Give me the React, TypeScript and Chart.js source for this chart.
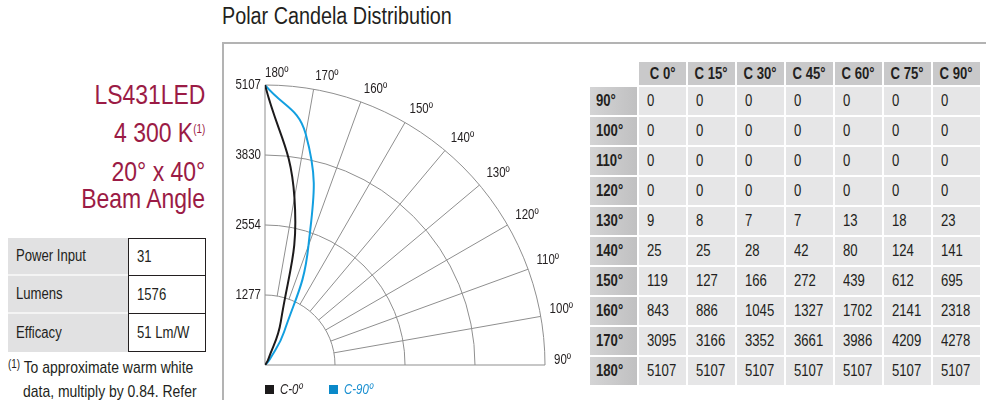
import React, { useEffect, useRef } from 'react';
import { Chart, registerables } from 'chart.js';
Chart.register(...registerables);

const SANS = "'Liberation Sans', Arial, 'DejaVu Sans', sans-serif";
const SQ = 0.82; // horizontal squeeze to imitate a condensed face
const TXT = '#231f20';
const WINE = '#9b1b45';
const GRID = '#8f8f8f';

// ---- data ----
const verticalAngles = [90, 100, 110, 120, 130, 140, 150, 160, 170, 180];
const cPlaneLabels = ['C 0°', 'C 15°', 'C 30°', 'C 45°', 'C 60°', 'C 75°', 'C 90°'];
const c0 = [0, 0, 0, 0, 9, 25, 119, 843, 3095, 5107];
const c15 = [0, 0, 0, 0, 8, 25, 127, 886, 3166, 5107];
const c30 = [0, 0, 0, 0, 7, 28, 166, 1045, 3352, 5107];
const c45 = [0, 0, 0, 0, 7, 42, 272, 1327, 3661, 5107];
const c60 = [0, 0, 0, 0, 13, 80, 439, 1702, 3986, 5107];
const c75 = [0, 0, 0, 0, 18, 124, 612, 2141, 4209, 5107];
const c90 = [0, 0, 0, 0, 23, 141, 695, 2318, 4278, 5107];
const ringValues = [1277, 2554, 3830, 5107];
const maxCandela = 5107;
const curveLabels = ['C-0º', 'C-90º'];
const curveValues = [c0, c90];
const curveColors = ['#1c1a1b', '#129fe0'];
const legendColors = ['#1c1a1b', '#0a89c9'];
const legendTextColors = ['#231f20', '#1a8fd0'];

const specLabels = ['Power Input', 'Lumens', 'Efficacy'];
const specValues = ['31', '1576', '51 Lm/W'];

const planes = [c0, c15, c30, c45, c60, c75, c90];

const toXY = (angle: number, v: number) => {
  const phi = ((180 - angle) * Math.PI) / 180;
  return { x: v * Math.sin(phi), y: v * Math.cos(phi) };
};

function squeezedText(ctx: any, text: string, x: number, y: number, align: string) {
  ctx.save();
  ctx.translate(x, y);
  ctx.scale(SQ, 1);
  ctx.textAlign = align;
  ctx.textBaseline = 'middle';
  ctx.fillText(text, 0, 0);
  ctx.restore();
}

const polarGrid = {
  id: 'polarGrid',
  beforeDatasetsDraw(chart: any) {
    const { ctx, scales } = chart;
    const x = scales.x, y = scales.y;
    const cx = x.getPixelForValue(0);
    const cy = y.getPixelForValue(0);
    const rad = (v: number) => x.getPixelForValue(v) - cx;
    ctx.save();
    ctx.strokeStyle = GRID;
    ctx.lineWidth = 1;
    ringValues.forEach((v) => {
      ctx.beginPath();
      ctx.arc(cx, cy, rad(v), -Math.PI / 2, 0);
      ctx.stroke();
    });
    const rIn = rad(ringValues[0]);
    const rOut = rad(ringValues[ringValues.length - 1]);
    ctx.font = `14px ${SANS}`;
    ctx.fillStyle = TXT;
    verticalAngles.forEach((a) => {
      const phi = ((180 - a) * Math.PI) / 180;
      const s = Math.sin(phi), c = Math.cos(phi);
      const r0 = a === 90 || a === 180 ? 0 : rIn;
      ctx.beginPath();
      ctx.moveTo(cx + r0 * s, cy - r0 * c);
      ctx.lineTo(cx + rOut * s, cy - rOut * c);
      ctx.stroke();
      squeezedText(ctx, `${a}º`, cx + rOut * s + 9 * s, cy - rOut * c - 12 * c - 5 * s, 'left');
    });
    ringValues.forEach((v) => {
      squeezedText(ctx, String(v), cx - 4, cy - rad(v), 'right');
    });
    ctx.restore();
  },
};

function PolarChart() {
  const ref = useRef<HTMLCanvasElement>(null);
  useEffect(() => {
    if (!ref.current) return;
    const chart = new Chart(ref.current, {
      type: 'scatter',
      data: {
        datasets: curveValues.map((vals, i) => ({
          label: curveLabels[i],
          data: verticalAngles.map((a, k) => toXY(a, vals[k])),
          showLine: true,
          borderColor: curveColors[i],
          backgroundColor: curveColors[i],
          borderWidth: 2,
          pointRadius: 0,
          tension: 0.45,
        })),
      },
      options: {
        animation: false,
        responsive: false,
        layout: { padding: { left: 41, top: 41, right: 45, bottom: 35 } },
        plugins: { legend: { display: false }, tooltip: { enabled: false } },
        scales: {
          x: { type: 'linear', min: 0, max: maxCandela, display: false },
          y: { type: 'linear', min: 0, max: maxCandela, display: false },
        },
      },
      plugins: [polarGrid],
    });
    return () => chart.destroy();
  }, []);
  return <canvas ref={ref} width={366} height={356} style={{ position: 'absolute', left: 224, top: 44 }} />;
}

const Sq = ({ children, origin = 'left', scale = SQ, style = {} }: any) => (
  <span style={{ display: 'inline-block', transform: `scaleX(${scale})`, transformOrigin: origin, whiteSpace: 'nowrap', ...style }}>{children}</span>
);

export default function App() {
  const abs = (s: any) => ({ position: 'absolute' as const, ...s });
  const big = { fontFamily: SANS, fontSize: 28, color: WINE, lineHeight: '32px', whiteSpace: 'nowrap' as const, textAlign: 'right' as const };
  const cell = { fontFamily: SANS, fontSize: 16, color: TXT, boxSizing: 'border-box' as const, display: 'flex', alignItems: 'center', overflow: 'visible' };
  return (
    <div style={abs({ left: 0, top: 0, width: 986, height: 400, overflow: 'hidden', background: '#fff' })}>
      {/* left panel */}
      <div style={abs({ ...big, right: 781, top: 79 })}><Sq origin="right">LS431LED</Sq></div>
      <div style={abs({ ...big, right: 781, top: 117 })}>
        <Sq origin="right">
          4 300 K<sup style={{ fontSize: 12, verticalAlign: 'top', position: 'relative', top: -4 }}>(1)</sup>
        </Sq>
      </div>
      <div style={abs({ ...big, right: 781, top: 156 })}><Sq origin="right">20° x 40°</Sq></div>
      <div style={abs({ ...big, right: 781, top: 183 })}><Sq origin="right">Beam Angle</Sq></div>

      <div style={abs({ left: 8, top: 238, width: 198 })}>
        {specLabels.map((l, i) => (
          <div key={l} style={{ display: 'flex', height: 38 }}>
            <div style={{ ...cell, width: 120, background: '#e1e1e2', paddingLeft: 8, borderBottom: i < 2 ? '2px solid #f4f4f4' : 'none' }}><Sq>{l}</Sq></div>
            <div style={{ ...cell, width: 78, background: '#fff', paddingLeft: 8, border: '1.5px solid #231f20', borderTop: i === 0 ? '1.5px solid #231f20' : 'none' }}><Sq>{specValues[i]}</Sq></div>
          </div>
        ))}
      </div>
      <div style={abs({ left: 8, top: 356, fontFamily: SANS, fontSize: 17, color: TXT, lineHeight: '24px', width: 260 })}>
        <div style={{ whiteSpace: 'nowrap' }}>
          <Sq><sup style={{ fontSize: 12, verticalAlign: 'top', position: 'relative', top: -4 }}>(1)</sup> To approximate warm white</Sq>
        </div>
        <div style={{ paddingLeft: 15, whiteSpace: 'nowrap' }}><Sq>data, multiply by 0.84. Refer</Sq></div>
      </div>

      {/* title and frame */}
      <div style={abs({ left: 222, top: 3, fontFamily: SANS, fontSize: 23, color: TXT, whiteSpace: 'nowrap' })}><Sq scale={0.86}>Polar Candela Distribution</Sq></div>
      <div style={abs({ left: 222, top: 42, width: 800, height: 400, borderTop: '2px solid #b3b3b3', borderLeft: '2px solid #b3b3b3' })} />

      <PolarChart />

      {/* legend */}
      {curveLabels.map((l, i) => (
        <div key={l} style={abs({ left: 265 + i * 64, top: 381, display: 'flex', alignItems: 'center', fontFamily: SANS, fontSize: 14, fontStyle: 'italic', color: legendTextColors[i] })}>
          <span style={{ display: 'inline-block', width: 9, height: 9, background: legendColors[i], marginRight: 6 }} />
          <Sq>{l}</Sq>
        </div>
      ))}

      {/* candela table */}
      <div style={abs({ left: 590, top: 62, display: 'grid', gridTemplateColumns: 'repeat(8, 47px)', gridTemplateRows: '23px repeat(10, 28px)', gap: 2 })}>
        <div />
        {cPlaneLabels.map((h) => (
          <div key={h} style={{ ...cell, background: '#c9c9ca', fontWeight: 'bold', justifyContent: 'center' }}><Sq origin="center">{h}</Sq></div>
        ))}
        {verticalAngles.map((a, r) => (
          <React.Fragment key={a}>
            <div style={{ ...cell, background: 'linear-gradient(to right, #d4d4d5, #c0c0c1)', fontWeight: 'bold', paddingLeft: 6 }}><Sq>{`${a}°`}</Sq></div>
            {planes.map((p, c) => (
              <div key={c} style={{ ...cell, background: '#e6e6e7', paddingLeft: 8 }}><Sq>{p[r]}</Sq></div>
            ))}
          </React.Fragment>
        ))}
      </div>
    </div>
  );
}
